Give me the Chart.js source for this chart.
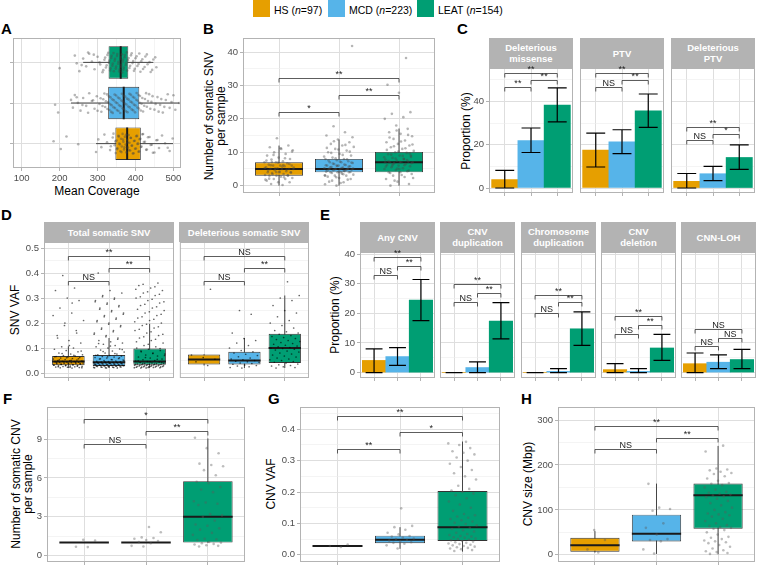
<!DOCTYPE html>
<html>
<head>
<meta charset="utf-8">
<script src="https://cdn.jsdelivr.net/npm/chart.js@4.4.1/dist/chart.umd.min.js"></script>
<style>
  body { margin: 0; background: #fff; font-family: 'Liberation Sans', Arial, sans-serif; }
  #fig { position: relative; width: 757px; height: 566px; overflow: hidden; }
  #fig canvas { position: absolute; }
  .lab { position: absolute; font-weight: bold; font-size: 15px; line-height: 15px; color: #000; }
  .ttl { position: absolute; font-size: 12px; line-height: 12px; white-space: nowrap; text-align: center; color: #000; }
  .strip { position: absolute; background: #b3b3b3; color: #fff; font-weight: bold; font-size: 9.5px; line-height: 11px;
           display: flex; align-items: center; justify-content: center; text-align: center; }
  .key { position: absolute; width: 17px; height: 17px; top: 0; }
  .ktxt { position: absolute; top: 4px; font-size: 10.5px; line-height: 12px; white-space: nowrap; }
</style>
</head>
<body>
<div id="fig"></div>
<script>
const groups = ['HS', 'MCD', 'LEAT'];
const groupN = [97, 223, 154];
const groupColors = ['#E69F00', '#56B4E9', '#009E73'];

// A - mean coverage; stats = [low whisker, q1, median, q3, high whisker]
const covStats = [[296, 347, 378, 414, 499], [230, 328, 369, 410, 515], [262, 329, 361, 381, 447]];
const covHS = [184, 203, 218, 249, 296, 302, 310, 318, 325, 333, 340, 345, 348, 350, 352, 355, 357, 360, 362, 364, 366, 368, 370, 372, 374, 376, 378, 380, 382, 384, 386, 388, 390, 393, 396, 399, 402, 405, 408, 411, 414, 418, 422, 428, 433, 440, 446, 455, 462, 470, 478, 490, 498,
  335, 342, 347, 351, 356, 359, 363, 367, 371, 375, 379, 383, 387, 391, 395, 398, 401, 404, 407, 410, 413, 416, 420, 425, 430, 437, 443, 450, 458, 485];
const covMCD = [188, 196, 230, 235, 240, 248, 255, 262, 270, 278, 285, 292, 298, 305, 310, 315, 320, 325, 328, 331, 334, 337, 340, 343, 346, 349, 352, 355, 358, 361, 364, 367, 370, 373, 376, 379, 382, 385, 388, 391, 394, 397, 400, 403, 406, 409, 412, 416, 420, 425, 430, 436, 442, 450, 458, 465, 472, 480, 490, 500, 515,
  300, 308, 313, 318, 322, 326, 330, 333, 336, 339, 342, 345, 348, 351, 354, 357, 360, 363, 366, 369, 372, 375, 378, 381, 384, 387, 390, 393, 396, 399, 402, 405, 408, 411, 414, 418, 423, 428, 433, 439, 445, 453, 461, 468, 476, 485, 495, 505, 245, 260, 275, 288];
const covLEAT = [200, 240, 245, 252, 262, 270, 278, 285, 292, 300, 307, 313, 318, 322, 326, 330, 333, 336, 339, 342, 345, 348, 351, 354, 357, 360, 362, 364, 366, 368, 371, 374, 377, 380, 384, 388, 392, 396, 400, 405, 410, 415, 420, 426, 432, 440, 447, 455,
  290, 305, 315, 320, 324, 328, 331, 334, 337, 340, 343, 346, 349, 352, 355, 358, 361, 363, 365, 367, 369, 372, 375, 378, 382, 386, 390, 394, 398, 403, 408, 413, 418, 424, 430, 437, 444, 452, 258, 275];

// B - somatic SNV count per sample
const snvStats = [[0, 3, 5, 7, 12], [0, 4, 5, 8, 13.8], [0, 4, 7, 10.1, 17.1]];
const snvHS = [0.2, 0.5, 1, 1, 1.5, 2, 2, 2.3, 2.7, 3, 3, 3, 3.2, 3.5, 3.8, 4, 4, 4, 4.3, 4.6, 5, 5, 5, 5, 5.2, 5.5, 5.8, 6, 6, 6, 6.3, 6.7, 7, 7, 7.3, 7.8, 8, 8.4, 9, 9.5, 10, 10.6, 11, 11.5, 12, 14.2,
  1.8, 2.5, 3.4, 3.9, 4.2, 4.5, 4.8, 5.1, 5.4, 5.7, 6.1, 6.5, 6.9, 7.5, 8.2, 9.2, 10.2, 11.2, 2.1, 3.1, 4.1, 5.3, 6.2, 7.1];
const snvMCD = [0, 0.4, 1, 1.5, 2, 2.3, 2.7, 3, 3, 3.3, 3.6, 4, 4, 4, 4.2, 4.4, 4.6, 4.8, 5, 5, 5, 5, 5.2, 5.4, 5.6, 5.8, 6, 6, 6.2, 6.5, 6.8, 7, 7, 7.3, 7.6, 8, 8, 8.4, 9, 9.5, 10, 10.5, 11, 11.6, 12, 12.5, 13, 13.8, 15, 16, 17.8, 41.8,
  0.8, 1.2, 1.8, 2.5, 3.1, 3.4, 3.8, 4.1, 4.3, 4.5, 4.7, 4.9, 5.1, 5.3, 5.5, 5.7, 5.9, 6.1, 6.3, 6.6, 6.9, 7.2, 7.5, 7.9, 8.2, 8.7, 9.2, 9.8, 10.2, 10.8, 11.3, 12.2, 13.3, 14.5, 4.0, 5.0, 5.0, 6.0, 3.0, 4.4];
const snvLEAT = [0, 0.5, 1.2, 2, 2.6, 3, 3.5, 4, 4, 4.3, 4.7, 5, 5.2, 5.5, 5.8, 6, 6.2, 6.5, 6.8, 7, 7, 7, 7.2, 7.5, 7.8, 8, 8.3, 8.6, 9, 9.4, 9.8, 10, 10.4, 11, 11.5, 12, 12.5, 13, 13.5, 14, 14.8, 15.5, 16, 17, 18, 20, 20.5, 21.5, 22, 27.8, 30.2, 38.2,
  1.5, 2.3, 3.2, 3.8, 4.5, 5.1, 5.7, 6.1, 6.4, 6.7, 7.1, 7.4, 7.7, 8.1, 8.5, 8.9, 9.3, 9.7, 10.2, 10.7, 11.2, 11.8, 12.3, 13.2, 14.4, 15.2, 16.5, 7.0, 8.0, 6.0, 9.0, 5.0];
const snvBrackets = [[1, 2, 22.1, '*'], [2, 3, 27, '**'], [1, 3, 32.2, '**']];

// C - proportion of patients (%) with 95% CI
const cFacets = ['Deleterious\nmissense', 'PTV', 'Deleterious\nPTV'];
const cProp = [[3.9, 21.9, 38.3], [17.5, 21.3, 35.6], [3.1, 6.6, 14.1]];
const cLow = [[0, 16.4, 30.5], [9.7, 15.9, 28.0], [0, 3.4, 8.6]];
const cHigh = [[8.1, 27.7, 46.2], [25.3, 26.9, 43.4], [6.7, 10.0, 19.9]];
const cBrackets = [
  [[1, 2, 46.6, '**'], [2, 3, 49.9, '**'], [1, 3, 53.1, '**']],
  [[1, 2, 46.4, 'NS'], [2, 3, 49.9, '**'], [1, 3, 53.1, '**']],
  [[1, 2, 22, 'NS'], [2, 3, 24.9, '*'], [1, 3, 28, '**']]
];

// D - SNV VAF
const dFacets = ['Total somatic SNV', 'Deleterious somatic SNV'];
const vafStats = [[0.02, 0.031, 0.046, 0.068, 0.107], [0.02, 0.028, 0.043, 0.072, 0.14], [0.02, 0.033, 0.046, 0.098, 0.197]];
const vafHS = [0.020, 0.021, 0.022, 0.023, 0.024, 0.025, 0.026, 0.027, 0.028, 0.029, 0.030, 0.031, 0.032, 0.033, 0.034, 0.035, 0.036, 0.037, 0.038, 0.039, 0.040, 0.041, 0.042, 0.043, 0.044, 0.045, 0.046, 0.047, 0.048, 0.049, 0.050, 0.052, 0.054, 0.056, 0.058, 0.060, 0.062, 0.064, 0.066, 0.068, 0.070, 0.073, 0.076, 0.080, 0.085, 0.090, 0.095, 0.100, 0.105, 0.12, 0.13, 0.15, 0.17, 0.19, 0.21, 0.24, 0.26, 0.29, 0.30, 0.33, 0.34, 0.39,
  0.0215, 0.0235, 0.0255, 0.0275, 0.0295, 0.0315, 0.0335, 0.0355, 0.0375, 0.0395, 0.0415, 0.0435, 0.0455, 0.0475, 0.051, 0.053, 0.057, 0.061, 0.065, 0.071, 0.078, 0.088, 0.11, 0.14, 0.16, 0.2, 0.23, 0.28];
const vafMCD = [0.020, 0.021, 0.022, 0.023, 0.024, 0.025, 0.026, 0.027, 0.028, 0.029, 0.030, 0.031, 0.032, 0.033, 0.034, 0.035, 0.036, 0.037, 0.038, 0.039, 0.040, 0.041, 0.042, 0.043, 0.044, 0.045, 0.046, 0.047, 0.048, 0.050, 0.052, 0.054, 0.056, 0.058, 0.060, 0.062, 0.064, 0.066, 0.068, 0.070, 0.073, 0.076, 0.080, 0.084, 0.088, 0.092, 0.096, 0.100, 0.105, 0.110, 0.115, 0.120, 0.125, 0.130, 0.14, 0.15, 0.16, 0.17, 0.18, 0.19, 0.20, 0.21, 0.22, 0.23, 0.24, 0.25, 0.26, 0.27, 0.28, 0.29, 0.30, 0.31, 0.32, 0.33, 0.40,
  0.0205, 0.0215, 0.0225, 0.0235, 0.0245, 0.0255, 0.0265, 0.0275, 0.0285, 0.0295, 0.0305, 0.0315, 0.0325, 0.0335, 0.0345, 0.0355, 0.0365, 0.0375, 0.0385, 0.0395, 0.041, 0.043, 0.045, 0.049, 0.053, 0.057, 0.061, 0.065, 0.071, 0.078, 0.086, 0.094, 0.108, 0.118, 0.135, 0.145, 0.155, 0.165, 0.175, 0.185, 0.195, 0.205, 0.215, 0.225, 0.235, 0.245, 0.255, 0.265, 0.275, 0.285, 0.295, 0.305];
const vafLEAT = [0.020, 0.021, 0.022, 0.023, 0.024, 0.025, 0.026, 0.027, 0.028, 0.029, 0.030, 0.031, 0.032, 0.033, 0.034, 0.035, 0.036, 0.037, 0.038, 0.039, 0.040, 0.042, 0.044, 0.046, 0.048, 0.050, 0.053, 0.056, 0.060, 0.064, 0.068, 0.072, 0.076, 0.080, 0.085, 0.090, 0.095, 0.100, 0.105, 0.110, 0.12, 0.13, 0.14, 0.15, 0.16, 0.17, 0.18, 0.19, 0.20, 0.21, 0.22, 0.23, 0.24, 0.25, 0.26, 0.27, 0.28, 0.29, 0.30, 0.31, 0.32, 0.33, 0.34, 0.35, 0.36,
  0.0205, 0.0215, 0.0225, 0.0235, 0.0245, 0.0255, 0.0265, 0.0275, 0.0285, 0.0295, 0.0305, 0.0315, 0.0325, 0.0335, 0.0345, 0.0355, 0.037, 0.041, 0.045, 0.049, 0.055, 0.062, 0.07, 0.078, 0.088, 0.098, 0.115, 0.125, 0.135, 0.145, 0.155, 0.165, 0.175, 0.185, 0.195, 0.205, 0.215, 0.225, 0.235, 0.245, 0.255, 0.265, 0.275, 0.285, 0.295, 0.305, 0.315, 0.325, 0.335, 0.345, 0.355];
const vafBrackets = [[1, 2, 0.368, 'NS'], [2, 3, 0.42, '**'], [1, 3, 0.468, '**']];
const delVafStats = [[0.03, 0.034, 0.054, 0.074, 0.075], [0.02, 0.034, 0.05, 0.085, 0.14], [0.02, 0.04, 0.1, 0.157, 0.31]];
const delVafHS = [0.03, 0.045, 0.055, 0.062, 0.072, 0.335];
const delVafMCD = [0.02, 0.022, 0.025, 0.028, 0.03, 0.032, 0.035, 0.038, 0.04, 0.043, 0.045, 0.047, 0.05, 0.053, 0.056, 0.06, 0.065, 0.07, 0.075, 0.08, 0.085, 0.09, 0.1, 0.11, 0.12, 0.13, 0.138, 0.16, 0.235, 0.25];
const delVafLEAT = [0.02, 0.022, 0.025, 0.028, 0.03, 0.033, 0.036, 0.04, 0.043, 0.046, 0.05, 0.053, 0.056, 0.06, 0.064, 0.068, 0.072, 0.076, 0.08, 0.084, 0.088, 0.092, 0.095, 0.098, 0.1, 0.102, 0.105, 0.108, 0.111, 0.115, 0.118, 0.122, 0.126, 0.13, 0.134, 0.138, 0.142, 0.146, 0.15, 0.155, 0.16, 0.165, 0.17, 0.18, 0.19, 0.2, 0.21, 0.225, 0.24, 0.25, 0.27, 0.29, 0.3, 0.31, 0.365];
const delVafBrackets = [[1, 2, 0.368, 'NS'], [2, 3, 0.42, '**'], [1, 3, 0.468, 'NS']];

// E - CNV proportions (%) with 95% CI
const eFacets = ['Any CNV', 'CNV\nduplication', 'Chromosome\nduplication', 'CNV\ndeletion', 'CNN-LOH'];
const eProp = [[4.1, 5.4, 24.5], [0, 1.7, 17.4], [0, 0.4, 14.8], [1.0, 0.4, 8.3], [3.0, 3.5, 4.4]];
const eLow = [[0, 2.4, 17.5], [0, 0, 11.4], [0, 0, 9.2], [0, 0, 4.1], [0, 1.3, 1.3]];
const eHigh = [[8.0, 8.4, 31.4], [0, 3.6, 23.6], [0, 1.3, 20.5], [3.0, 1.3, 12.9], [6.6, 6.0, 7.8]];
const eBrackets = [
  [[1, 2, 32.9, 'NS'], [2, 3, 35.9, '**'], [1, 3, 39.0, '**']],
  [[1, 2, 23.9, 'NS'], [2, 3, 26.8, '**'], [1, 3, 29.8, '**']],
  [[1, 2, 20.0, 'NS'], [2, 3, 23.7, '**'], [1, 3, 26.2, '**']],
  [[1, 2, 13.1, 'NS'], [2, 3, 16.0, '**'], [1, 3, 19.1, '**']],
  [[1, 2, 9.0, 'NS'], [2, 3, 11.5, 'NS'], [1, 3, 14.6, 'NS']]
];

// F - somatic CNV count per sample
const cnvNStats = [[1, 1, 1, 1, 1], [1, 1, 1, 1, 1], [1, 1, 3, 5.75, 9.05]];
const cnvNHS = [0.65, 0.68, 1.15, 1.22];
const cnvNMCD = [0.7, 0.75, 0.95, 1.05, 1.12, 1.2, 1.3, 1.35, 1.4, 1.8, 2.2];
const cnvNLEAT = [0.7, 0.75, 0.8, 0.85, 0.9, 0.95, 1.0, 1.05, 1.2, 1.25, 1.3, 1.6, 1.75, 2.0, 2.1, 2.3, 2.4, 2.7, 3.0, 3.1, 3.2, 3.9, 4.0, 4.1, 4.2, 4.9, 5.1, 5.3, 5.6, 5.7, 6.2, 6.6, 6.9, 7.0, 7.1, 7.9, 8.3, 9.1];
const cnvNBrackets = [[1, 2, 8.6, 'NS'], [2, 3, 9.6, '**'], [1, 3, 10.55, '*']];

// G - CNV VAF
const cnvVafStats = [[0.027, 0.027, 0.028, 0.029, 0.03], [0.019, 0.037, 0.048, 0.061, 0.088], [0.01, 0.044, 0.088, 0.203, 0.361]];
const cnvVafHS = [0.025, 0.028, 0.033];
const cnvVafMCD = [0.02, 0.03, 0.035, 0.038, 0.04, 0.042, 0.045, 0.047, 0.05, 0.052, 0.055, 0.058, 0.06, 0.065, 0.07, 0.08, 0.088, 0.092, 0.148];
const cnvVafLEAT = [0.012, 0.015, 0.018, 0.02, 0.022, 0.024, 0.026, 0.028, 0.03, 0.032, 0.034, 0.036, 0.038, 0.04, 0.042, 0.044, 0.046, 0.048, 0.05, 0.052, 0.054, 0.056, 0.058, 0.06, 0.063, 0.066, 0.07, 0.074, 0.078, 0.082, 0.086, 0.09, 0.094, 0.098, 0.102, 0.106, 0.11, 0.114, 0.118, 0.122, 0.126, 0.13, 0.14, 0.15, 0.16, 0.17, 0.18, 0.19, 0.195, 0.2, 0.205, 0.21, 0.22, 0.24, 0.25, 0.26, 0.27, 0.28, 0.29, 0.3, 0.31, 0.32, 0.325, 0.33, 0.34, 0.35, 0.355, 0.36];
const cnvVafBrackets = [[1, 2, 0.337, '**'], [2, 3, 0.39, '*'], [1, 3, 0.441, '**']];

// H - CNV size (Mbp)
const cnvSizeStats = [[5, 7, 21.4, 38, 52.7], [2, 29.7, 47, 89.3, 158.5], [1, 58, 132.4, 158.5, 242.4]];
const cnvSizeHS = [5, 12, 33, 55];
const cnvSizeMCD = [3, 12, 30, 33, 35, 45, 60, 70, 98, 102, 105, 158];
const cnvSizeLEAT = [2, 4, 6, 8, 10, 14, 18, 22, 26, 28, 30, 32, 35, 38, 40, 45, 50, 55, 58, 60, 62, 64, 66, 70, 75, 80, 85, 88, 90, 92, 95, 100, 105, 110, 115, 120, 125, 128, 130, 132, 134, 136, 138, 140, 145, 150, 155, 158, 160, 165, 170, 175, 180, 182, 185, 188, 190, 192, 230, 243];
const cnvSizeBrackets = [[1, 2, 235.7, 'NS'], [2, 3, 261, '**'], [1, 3, 286.4, '**']];

const FONT = "'Liberation Sans', Arial, sans-serif";
const MAJOR = '#dedede', MINOR = '#ececec', FRAME = '#b3b3b3', TXT = '#4d4d4d';
const PADT = 12, PADR = 10, PADB = 12;
const fig = document.getElementById('fig');

function put(cls, html, l, t, extra) {
  const d = document.createElement('div');
  d.className = cls;
  d.innerHTML = html;
  d.style.left = l + 'px';
  d.style.top = t + 'px';
  Object.assign(d.style, extra || {});
  fig.appendChild(d);
}

// ggplot-like axis: majors get labels + ticks, minors only a faint grid line
function gridAxis(min, max, majors, minors, o) {
  return {
    type: 'linear', min, max, offset: false,
    afterBuildTicks: s => {
      s.ticks = majors.map(v => ({ value: v }))
        .concat(minors.map(v => ({ value: v, minor: true })))
        .sort((a, b) => a.value - b.value);
    },
    afterFit: s => { if (s.isHorizontal()) s.height = o.size; else s.width = o.size; },
    ticks: {
      display: !!o.labels, autoSkip: false, maxRotation: 0, padding: 2, color: TXT,
      font: { family: FONT, size: 9.5 },
      callback: (v, i, t) => t[i].minor ? '' : (o.fmt ? o.fmt(v) : String(v))
    },
    grid: {
      offset: false,
      color: c => c.tick && c.tick.minor ? MINOR : MAJOR,
      lineWidth: c => c.tick && c.tick.minor ? 0.6 : 1,
      drawTicks: !!o.ticks, tickLength: 3, tickWidth: 1,
      tickColor: c => c.tick && c.tick.minor ? 'rgba(0,0,0,0)' : FRAME
    },
    border: { display: false }
  };
}
const idxAxis = size => gridAxis(0.4, 3.6, [1, 2, 3], [], { labels: false, ticks: true, size });

const jit = (i, w) => (((i + 1) * 0.618034) % 1 - 0.5) * 2 * w;
function cloud(lists, w, horiz) {
  const pts = [];
  lists.forEach((vals, gi) => vals.forEach((v, i) => {
    const p = gi + 1 + jit(i + gi * 11, w);
    pts.push(horiz ? { x: v, y: p } : { x: p, y: v });
  }));
  return pts;
}
function pointSet(pts, r, col) {
  return { type: 'scatter', data: pts, pointRadius: r, pointHoverRadius: r, pointBackgroundColor: col, pointBorderWidth: 0 };
}
function boxSet(stats, horiz) {
  return {
    type: 'bar', indexAxis: horiz ? 'y' : 'x',
    data: stats.map((s, i) => horiz ? { y: i + 1, x: [s[1], s[3]] } : { x: i + 1, y: [s[1], s[3]] }),
    backgroundColor: groupColors, borderColor: '#333', borderWidth: 0.9, borderSkipped: false,
    barPercentage: 0.8, categoryPercentage: 1
  };
}
function barSet(vals) {
  return {
    type: 'bar', data: vals.map((v, i) => ({ x: i + 1, y: v })),
    backgroundColor: groupColors, borderWidth: 0, barPercentage: 1, categoryPercentage: 1
  };
}

function line(ctx, x0, y0, x1, y1) { ctx.moveTo(x0, y0); ctx.lineTo(x1, y1); }

function deco(spec) {
  return {
    id: 'deco',
    beforeDatasetsDraw(chart) {
      if (!spec.box) return;
      const { ctx } = chart, xs = chart.scales.x, ys = chart.scales.y;
      ctx.save();
      ctx.strokeStyle = '#333'; ctx.lineWidth = 0.9;
      ctx.beginPath();
      spec.box.forEach((s, i) => {
        if (spec.horiz) {
          const y = ys.getPixelForValue(i + 1);
          line(ctx, xs.getPixelForValue(s[0]), y, xs.getPixelForValue(s[4]), y);
        } else {
          const x = xs.getPixelForValue(i + 1);
          line(ctx, x, ys.getPixelForValue(s[0]), x, ys.getPixelForValue(s[4]));
        }
      });
      ctx.stroke();
      ctx.restore();
    },
    afterDatasetDraw(chart, args) {
      if (!spec.box || args.index !== 1) return;
      const { ctx } = chart, xs = chart.scales.x, ys = chart.scales.y;
      ctx.save();
      ctx.strokeStyle = '#1a1a1a'; ctx.lineWidth = 2;
      ctx.beginPath();
      spec.box.forEach((s, i) => {
        const g = i + 1;
        if (spec.horiz) {
          const x = xs.getPixelForValue(s[2]);
          line(ctx, x, ys.getPixelForValue(g - 0.4), x, ys.getPixelForValue(g + 0.4));
        } else {
          const y = ys.getPixelForValue(s[2]);
          line(ctx, xs.getPixelForValue(g - 0.4), y, xs.getPixelForValue(g + 0.4), y);
        }
      });
      ctx.stroke();
      ctx.restore();
    },
    afterDatasetsDraw(chart) {
      const { ctx, chartArea: a } = chart, xs = chart.scales.x, ys = chart.scales.y;
      ctx.save();
      if (spec.err) {
        ctx.strokeStyle = '#000'; ctx.lineWidth = 1.2;
        ctx.beginPath();
        spec.err[0].forEach((lo, i) => {
          const g = i + 1, x = xs.getPixelForValue(g);
          const x0 = xs.getPixelForValue(g - 0.36), x1 = xs.getPixelForValue(g + 0.36);
          const y0 = ys.getPixelForValue(lo), y1 = ys.getPixelForValue(spec.err[1][i]);
          line(ctx, x, y0, x, y1);
          line(ctx, x0, y0, x1, y0);
          line(ctx, x0, y1, x1, y1);
        });
        ctx.stroke();
      }
      // panel border
      ctx.strokeStyle = FRAME; ctx.lineWidth = 1;
      ctx.strokeRect(a.left + 0.5, a.top + 0.5, a.width - 1, a.height - 1);
      // significance brackets
      if (spec.brackets) {
        ctx.strokeStyle = '#333'; ctx.lineWidth = 0.8;
        ctx.fillStyle = '#222';
        ctx.font = '9px ' + FONT;
        ctx.textAlign = 'center'; ctx.textBaseline = 'alphabetic';
        spec.brackets.forEach(([a1, b1, v, lab]) => {
          const x0 = xs.getPixelForValue(a1), x1 = xs.getPixelForValue(b1);
          const y = Math.round(ys.getPixelForValue(v)) + 0.5;
          ctx.beginPath();
          ctx.moveTo(x0, y + 4); ctx.lineTo(x0, y); ctx.lineTo(x1, y); ctx.lineTo(x1, y + 4);
          ctx.stroke();
          ctx.fillText(lab, (x0 + x1) / 2, y - 1.5);
        });
      }
      ctx.restore();
    }
  };
}

function makeChart(l, t, w, h, yW, xH, scales, datasets, spec) {
  const cv = document.createElement('canvas');
  cv.width = yW + w + PADR;
  cv.height = PADT + h + xH + PADB;
  cv.style.left = (l - yW) + 'px';
  cv.style.top = (t - PADT) + 'px';
  fig.appendChild(cv);
  return new Chart(cv, {
    type: 'bar',
    data: { datasets },
    options: {
      responsive: false, animation: false, events: [],
      layout: { padding: { top: PADT, right: PADR, bottom: PADB, left: 0 } },
      plugins: { legend: { display: false }, tooltip: { enabled: false } },
      scales
    },
    plugins: [deco(spec)]
  });
}

const f1 = v => v.toFixed(1);

// legend
const keyX = [253, 328, 417];
groups.forEach((g, i) => {
  put('key', '', keyX[i], 0, { background: groupColors[i] });
  put('ktxt', g + ' (<i>n</i>=' + groupN[i] + ')', keyX[i] + 21, 4);
});

// panel letters
[['A', 1, 21], ['B', 203, 21], ['C', 457, 21], ['D', 1, 207], ['E', 320, 207],
 ['F', 3, 391], ['G', 268, 391], ['H', 521, 391]].forEach(([s, l, t]) => put('lab', s, l, t));

// axis titles
const rot = { transform: 'translate(-50%,-50%) rotate(-90deg)' };
put('ttl', 'Mean Coverage', 97, 185, { transform: 'translateX(-50%)' });
put('ttl', 'Number of somatic SNV<br>per sample', 214.5, 116, rot);
put('ttl', 'Proportion (%)', 466, 131, rot);
put('ttl', 'SNV VAF', 15, 310, rot);
put('ttl', 'Proportion (%)', 335, 315, rot);
put('ttl', 'Number of somatic CNV<br>per sample', 21.5, 484, rot);
put('ttl', 'CNV VAF', 271, 484, rot);
put('ttl', 'CNV size (Mbp)', 528, 484, rot);

// A
makeChart(13, 38, 168, 130, 5, 16, {
  x: gridAxis(77, 520, [100, 200, 300, 400, 500], [150, 250, 350, 450], { labels: true, ticks: true, size: 16 }),
  y: idxAxis(5)
}, [pointSet(cloud([covHS, covMCD, covLEAT], 0.25, true), 1.3, 'rgba(70,70,70,0.4)'), boxSet(covStats, true)],
{ box: covStats, horiz: true });

// B
makeChart(243, 38, 192, 155, 30, 5, {
  x: idxAxis(5),
  y: gridAxis(-2.2, 44.2, [0, 10, 20, 30, 40], [5, 15, 25, 35], { labels: true, ticks: true, size: 30 })
}, [pointSet(cloud([snvHS, snvMCD, snvLEAT], 0.25), 1.3, 'rgba(70,70,70,0.4)'), boxSet(snvStats)],
{ box: snvStats, brackets: snvBrackets });

// C
cFacets.forEach((name, k) => {
  const l = 489 + k * 91, first = k === 0;
  put('strip', name.replace('\n', '<br>'), l, 38, { width: '84px', height: '30px' });
  makeChart(l, 68, 84, 125, first ? 30 : 0, 5, {
    x: idxAxis(5),
    y: gridAxis(-2.3, 55.4, [0, 20, 40], [10, 30, 50], { labels: first, ticks: first, size: first ? 30 : 0 })
  }, [barSet(cProp[k])], { err: [cLow[k], cHigh[k]], brackets: cBrackets[k] });
});

// D
const dStats = [vafStats, delVafStats];
const dPoints = [[vafHS, vafMCD, vafLEAT], [delVafHS, delVafMCD, delVafLEAT]];
const dBrackets = [vafBrackets, delVafBrackets];
dFacets.forEach((name, k) => {
  const l = 44 + k * 135, first = k === 0;
  put('strip', name, l, 222, { width: '130px', height: '20px' });
  makeChart(l, 242, 130, 136, first ? 30 : 0, 5, {
    x: idxAxis(5),
    y: gridAxis(-0.02, 0.524, [0, 0.1, 0.2, 0.3, 0.4, 0.5], [0.05, 0.15, 0.25, 0.35, 0.45],
      { labels: first, ticks: first, size: first ? 30 : 0, fmt: f1 })
  }, [pointSet(cloud(dPoints[k], 0.38), 0.85, 'rgba(0,0,0,0.6)'), boxSet(dStats[k])],
  { box: dStats[k], brackets: dBrackets[k] });
});

// E
eFacets.forEach((name, k) => {
  const l = Math.round(360.3 + k * 80.15), first = k === 0;
  put('strip', name.replace('\n', '<br>'), l, 222, { width: '75px', height: '30px' });
  makeChart(l, 252, 75, 126, first ? 30 : 0, 5, {
    x: idxAxis(5),
    y: gridAxis(-1.83, 40.68, [0, 10, 20, 30, 40], [5, 15, 25, 35], { labels: first, ticks: first, size: first ? 30 : 0 })
  }, [barSet(eProp[k])], { err: [eLow[k], eHigh[k]], brackets: eBrackets[k] });
});

// F
makeChart(47, 407, 198, 155, 30, 5, {
  x: idxAxis(5),
  y: gridAxis(-0.5, 11.48, [0, 3, 6, 9], [1.5, 4.5, 7.5, 10.5], { labels: true, ticks: true, size: 30 })
}, [pointSet(cloud([cnvNHS, cnvNMCD, cnvNLEAT], 0.25), 1.3, 'rgba(90,90,90,0.4)'), boxSet(cnvNStats)],
{ box: cnvNStats, brackets: cnvNBrackets });

// G
makeChart(300, 407, 200, 155, 30, 5, {
  x: idxAxis(5),
  y: gridAxis(-0.023, 0.471, [0, 0.1, 0.2, 0.3, 0.4], [0.05, 0.15, 0.25, 0.35, 0.45], { labels: true, ticks: true, size: 30, fmt: f1 })
}, [pointSet(cloud([cnvVafHS, cnvVafMCD, cnvVafLEAT], 0.23), 1.3, 'rgba(90,90,90,0.4)'), boxSet(cnvVafStats)],
{ box: cnvVafStats, brackets: cnvVafBrackets });

// H
makeChart(558, 407, 197, 155, 30, 5, {
  x: idxAxis(5),
  y: gridAxis(-16, 329, [0, 100, 200, 300], [50, 150, 250], { labels: true, ticks: true, size: 30 })
}, [pointSet(cloud([cnvSizeHS, cnvSizeMCD, cnvSizeLEAT], 0.23), 1.3, 'rgba(90,90,90,0.4)'), boxSet(cnvSizeStats)],
{ box: cnvSizeStats, brackets: cnvSizeBrackets });
</script>
</body>
</html>
